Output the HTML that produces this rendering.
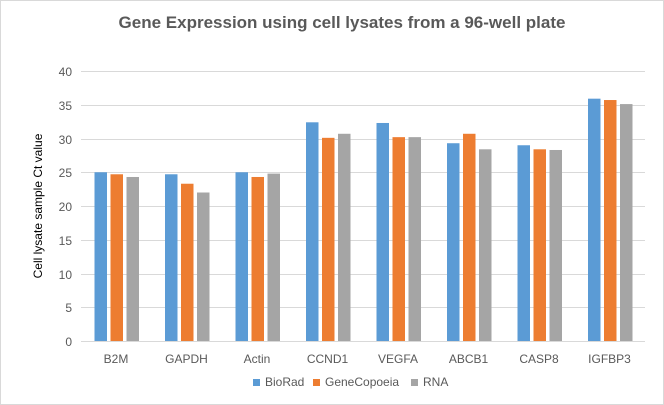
<!DOCTYPE html><html><head><style>body{margin:0;background:#fff}svg{display:block;font-family:"Liberation Sans",sans-serif}</style></head><body>
<svg width="664" height="405" viewBox="0 0 664 405" xmlns="http://www.w3.org/2000/svg">
<rect x="0.5" y="0.5" width="663" height="404" fill="#fff" stroke="#d9d9d9"/>
<text x="342" y="28" text-anchor="middle" font-size="17" font-weight="bold" fill="#595959">Gene Expression using cell lysates from a 96-well plate</text>
<g stroke="#d9d9d9" stroke-width="1">
<line x1="81" x2="645" y1="71.5" y2="71.5"/><line x1="81" x2="645" y1="105.5" y2="105.5"/><line x1="81" x2="645" y1="139.5" y2="139.5"/><line x1="81" x2="645" y1="172.5" y2="172.5"/><line x1="81" x2="645" y1="206.5" y2="206.5"/><line x1="81" x2="645" y1="240.5" y2="240.5"/><line x1="81" x2="645" y1="274.5" y2="274.5"/><line x1="81" x2="645" y1="307.5" y2="307.5"/><line x1="81" x2="645" y1="341.5" y2="341.5"/>
</g>
<g font-size="12" fill="#595959" text-anchor="end">
<text x="72" y="76">40</text><text x="72" y="110">35</text><text x="72" y="144">30</text><text x="72" y="177">25</text><text x="72" y="211">20</text><text x="72" y="245">15</text><text x="72" y="279">10</text><text x="72" y="312">5</text><text x="72" y="346">0</text>
</g>
<text transform="translate(42,206) rotate(-90)" text-anchor="middle" font-size="12" fill="#000">Cell lysate sample Ct value</text>
<g fill="#5b9bd5">
<rect x="94.5" y="172.25" width="12.5" height="168.75"/><rect x="165" y="174.28" width="12.5" height="166.72"/><rect x="235.5" y="172.25" width="12.5" height="168.75"/><rect x="306" y="122.3" width="12.5" height="218.7"/><rect x="376.5" y="122.98" width="12.5" height="218.02"/><rect x="447" y="143.23" width="12.5" height="197.77"/><rect x="517.5" y="145.25" width="12.5" height="195.75"/><rect x="588" y="98.68" width="12.5" height="242.32"/>
</g>
<g fill="#ed7d31">
<rect x="110.5" y="174.28" width="12.5" height="166.72"/><rect x="181" y="183.73" width="12.5" height="157.27"/><rect x="251.5" y="176.98" width="12.5" height="164.02"/><rect x="322" y="137.83" width="12.5" height="203.17"/><rect x="392.5" y="137.15" width="12.5" height="203.85"/><rect x="463" y="133.78" width="12.5" height="207.22"/><rect x="533.5" y="149.3" width="12.5" height="191.7"/><rect x="604" y="100.03" width="12.5" height="240.97"/>
</g>
<g fill="#a5a5a5">
<rect x="126.5" y="176.98" width="12.5" height="164.02"/><rect x="197" y="192.5" width="12.5" height="148.5"/><rect x="267.5" y="173.6" width="12.5" height="167.4"/><rect x="338" y="133.78" width="12.5" height="207.22"/><rect x="408.5" y="137.15" width="12.5" height="203.85"/><rect x="479" y="149.3" width="12.5" height="191.7"/><rect x="549.5" y="149.98" width="12.5" height="191.02"/><rect x="620" y="104.08" width="12.5" height="236.92"/>
</g>
<g font-size="12" fill="#595959" text-anchor="middle">
<text x="116" y="363">B2M</text><text x="186.5" y="363">GAPDH</text><text x="257" y="363">Actin</text><text x="327.5" y="363">CCND1</text><text x="398" y="363">VEGFA</text><text x="468.5" y="363">ABCB1</text><text x="539" y="363">CASP8</text><text x="609.5" y="363">IGFBP3</text>
</g>
<rect x="253" y="379" width="7" height="7" fill="#5b9bd5"/><text x="265" y="386" font-size="12" fill="#595959">BioRad</text>
<rect x="313" y="379" width="7" height="7" fill="#ed7d31"/><text x="325" y="386" font-size="12" fill="#595959">GeneCopoeia</text>
<rect x="411" y="379" width="7" height="7" fill="#a5a5a5"/><text x="423" y="386" font-size="12" fill="#595959">RNA</text>
</svg></body></html>
